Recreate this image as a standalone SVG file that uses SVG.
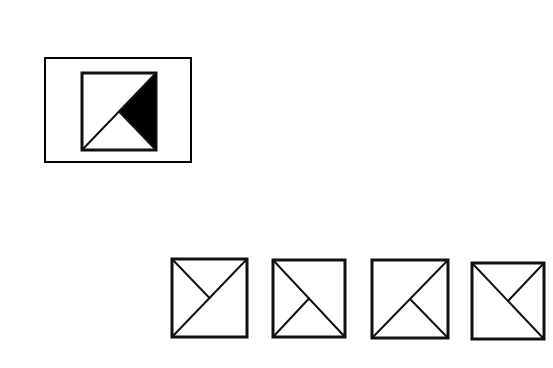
<svg xmlns="http://www.w3.org/2000/svg" width="553" height="368" viewBox="0 0 553 368">
<style>
.frame{fill:none;stroke:#000;stroke-width:2}
.sq{fill:#fff;stroke:#111;stroke-width:3}
.ln{stroke:#111;stroke-width:2;fill:none;stroke-linecap:round}
</style>
<rect width="553" height="368" fill="#fff"/>
<g id="question">
<rect class="frame" x="45" y="58" width="146" height="104"/>
<rect class="sq" x="82" y="73" width="74" height="77"/>
<polygon points="156,73 119,111.5 156,150" fill="#000"/>
<line class="ln" x1="82" y1="150" x2="156" y2="73"/>
<line class="ln" x1="119" y1="111.5" x2="156" y2="150"/>
</g>
<g id="optionA">
<rect class="sq" x="172" y="259" width="75" height="78"/>
<line class="ln" x1="172" y1="337" x2="247" y2="259"/>
<line class="ln" x1="172" y1="259" x2="209.5" y2="298"/>
</g>
<g id="optionB">
<rect class="sq" x="273" y="260" width="72" height="77"/>
<line class="ln" x1="273" y1="260" x2="345" y2="337"/>
<line class="ln" x1="273" y1="337" x2="309" y2="298.5"/>
</g>
<g id="optionC">
<rect class="sq" x="372" y="260" width="76" height="78"/>
<line class="ln" x1="372" y1="338" x2="448" y2="260"/>
<line class="ln" x1="410" y1="299" x2="448" y2="338"/>
</g>
<g id="optionD">
<rect class="sq" x="472" y="263" width="72" height="76"/>
<line class="ln" x1="472" y1="263" x2="544" y2="339"/>
<line class="ln" x1="508" y1="301" x2="544" y2="263"/>
</g>
<g id="connectors"></g>
</svg>
